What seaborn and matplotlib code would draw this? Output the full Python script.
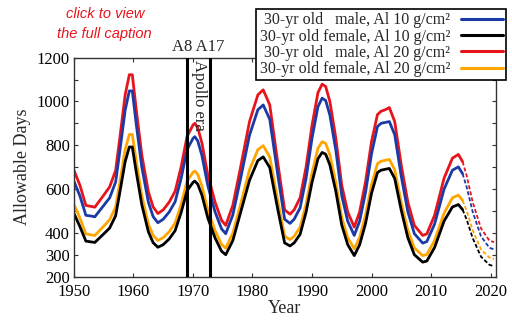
import matplotlib
matplotlib.use("Agg")
import matplotlib.pyplot as plt
from matplotlib.lines import Line2D
import numpy as np
import pandas as pd
import seaborn as sns

# Solar-cycle modulated allowable mission days, solid = historical record
years = [1950, 1951, 1952, 1953, 1953.5, 1955, 1956, 1957, 1957.7, 1958.6,
         1959.3, 1959.8, 1960.5, 1961.4, 1962.5, 1963.3, 1964.1, 1965, 1966, 1967,
         1968, 1969, 1970, 1970.3, 1970.8, 1971.5, 1972.5, 1973.7, 1974.8, 1975.5,
         1976.7, 1978, 1979.5, 1980.9, 1981.8, 1982.9, 1984.3, 1985.4, 1986.3, 1987,
         1988, 1989, 1990, 1991, 1991.7, 1992.3, 1993, 1994, 1995, 1996,
         1997.1, 1998, 1999, 2000, 2001, 2001.6, 2002.3, 2003, 2003.9, 2005,
         2006.1, 2007.2, 2008.6, 2009.3, 2010.6, 2012.2, 2013.6, 2014.6, 2015.3]

male_al20 = [685, 617, 525, 520, 517, 572, 610, 685, 832, 1030,
             1122, 1122, 954, 755, 587, 518, 488, 505, 540, 590,
             700, 840, 892, 900, 880, 810, 663, 541, 457, 434,
             526, 700, 908, 1030, 1053, 984, 709, 505, 485, 505,
             560, 700, 890, 1040, 1079, 1068, 1000, 833, 617, 495,
             426, 495, 633, 816, 940, 955, 962, 972, 908, 709,
             541, 434, 388, 395, 480, 650, 741, 758, 725]

male_al10 = [635, 568, 480, 476, 473, 525, 560, 632, 772, 960,
             1048, 1048, 888, 700, 540, 474, 446, 462, 495, 542,
             648, 780, 831, 839, 820, 753, 614, 496, 418, 396,
             482, 648, 846, 962, 984, 918, 656, 462, 443, 462,
             514, 648, 832, 976, 1015, 1004, 938, 778, 570, 453,
             388, 453, 585, 760, 885, 900, 904, 908, 848, 658,
             497, 396, 353, 360, 440, 600, 686, 701, 670]

female_al20 = [530, 467, 395, 390, 388, 430, 460, 518, 630, 780,
               849, 849, 722, 570, 440, 388, 365, 378, 405, 445,
               530, 636, 676, 682, 667, 614, 502, 410, 347, 330,
               399, 531, 688, 780, 798, 746, 538, 385, 369, 384,
               426, 531, 673, 786, 816, 808, 756, 630, 470, 378,
               327, 379, 482, 620, 716, 727, 731, 735, 688, 538,
               412, 331, 296, 301, 365, 490, 560, 572, 548]

female_al10 = [488, 428, 362, 358, 356, 395, 422, 478, 584, 725,
               792, 792, 672, 528, 405, 355, 334, 346, 372, 410,
               492, 592, 630, 636, 622, 572, 467, 377, 316, 300,
               365, 493, 640, 730, 747, 698, 500, 354, 340, 354,
               393, 494, 630, 738, 767, 759, 710, 590, 435, 346,
               296, 345, 443, 580, 675, 686, 690, 694, 648, 503,
               378, 300, 266, 271, 333, 454, 518, 529, 506]

# Projection for the declining phase of the current cycle (dashed)
proj_years = [2015.3, 2016, 2017, 2018.4, 2019.8, 2020.6]
proj_male_al20 = [725, 660, 541, 420, 365, 357]
proj_male_al10 = [670, 608, 496, 384, 332, 324]
proj_female_al20 = [548, 500, 412, 324, 287, 281]
proj_female_al10 = [506, 460, 376, 291, 254, 247]

labels = [
    "30-yr old   male, Al 10 g/cm\u00b2",
    "30-yr old female, Al 10 g/cm\u00b2",
    "30-yr old   male, Al 20 g/cm\u00b2",
    "30-yr old female, Al 20 g/cm\u00b2",
]
colors = ["#1c3aa6", "#000000", "#e8141b", "#ffa500"]
hist_series = [male_al10, female_al10, male_al20, female_al20]
proj_series = [proj_male_al10, proj_female_al10, proj_male_al20, proj_female_al20]

frames = []
for lab, hist, proj in zip(labels, hist_series, proj_series):
    frames.append(pd.DataFrame({"year": years, "days": hist, "series": lab, "segment": "record"}))
    frames.append(pd.DataFrame({"year": proj_years, "days": proj, "series": lab, "segment": "projection"}))
df = pd.concat(frames, ignore_index=True)

sns.set_theme(style="ticks")
plt.rcParams["font.family"] = ["Liberation Serif", "DejaVu Serif"]

fig = plt.figure(figsize=(5.12, 3.22), dpi=100)
fig.patch.set_facecolor("white")
ax = fig.add_axes([0.1445, 0.141, 0.824, 0.680])

# Draw order: orange/black beneath, red/blue above
order = [labels[3], labels[1], labels[2], labels[0]]
palette = dict(zip(labels, colors))
for lab in order:
    sub = df[df["series"] == lab]
    sns.lineplot(data=sub, x="year", y="days", hue="series", style="segment",
                 palette=palette, dashes={"record": "", "projection": (2.2, 1.2)},
                 style_order=["record", "projection"],
                 linewidth=2.0, legend=False, ax=ax, sort=True,
                 estimator=None)
# thin dashes for the projection
for line in ax.get_lines():
    if line.get_linestyle() not in ("-", "solid"):
        line.set_linewidth(1.3)

# Apollo programme markers (Apollo 8 and Apollo 17)
apollo_years = [1968.95, 1972.9]
for yr in apollo_years:
    ax.axvline(yr, color="black", lw=2.2, zorder=5)
ax.text(1970.9, 1212, "A8 A17", ha="center", va="bottom", fontsize=12)
ax.text(1970.95, 1190, "Apollo era", rotation=270, ha="center", va="top", fontsize=12, zorder=6)

ax.set_xlim(1950, 2020.9)
ax.set_ylim(200, 1200)
ax.set_xticks(np.arange(1950, 2021, 10))
ax.set_yticks(np.arange(200, 1201, 100))
ylab_vals = {200, 300, 400, 600, 800, 1000, 1200}
ax.set_yticklabels([str(v) if v in ylab_vals else "" for v in range(200, 1201, 100)])
ax.tick_params(direction="in", length=3, width=0.8, top=True, right=True,
               labelsize=12, colors="#333333", labelcolor="black")
ax.tick_params(axis="x", pad=5)
ax.tick_params(axis="y", pad=3)
for s in ax.spines.values():
    s.set_color("#333333")
    s.set_linewidth(1.0)

ax.set_xlabel("Year", fontsize=13, labelpad=0)
ax.set_ylabel("Allowable Days", fontsize=13, labelpad=4)

handles = [Line2D([], [], color=c, lw=2.2) for c in colors]
leg = fig.legend(handles, labels, loc="upper right", bbox_to_anchor=(0.988, 0.972),
                 bbox_transform=fig.transFigure, fontsize=11.5, markerfirst=False,
                 frameon=True, fancybox=False, framealpha=1, edgecolor="black",
                 borderpad=0.2, labelspacing=0.02, handlelength=2.6,
                 handletextpad=0.7, borderaxespad=0)
leg.get_frame().set_linewidth(1.2)
leg.set_zorder(10)

fig.text(0.205, 0.955, "click to view", color="#e8141b", fontsize=10.5,
         style="italic", family="Liberation Sans", ha="center", va="center")
fig.text(0.203, 0.893, "the full caption", color="#e8141b", fontsize=10.5,
         style="italic", family="Liberation Sans", ha="center", va="center")

fig.savefig("out.png", dpi=100)
